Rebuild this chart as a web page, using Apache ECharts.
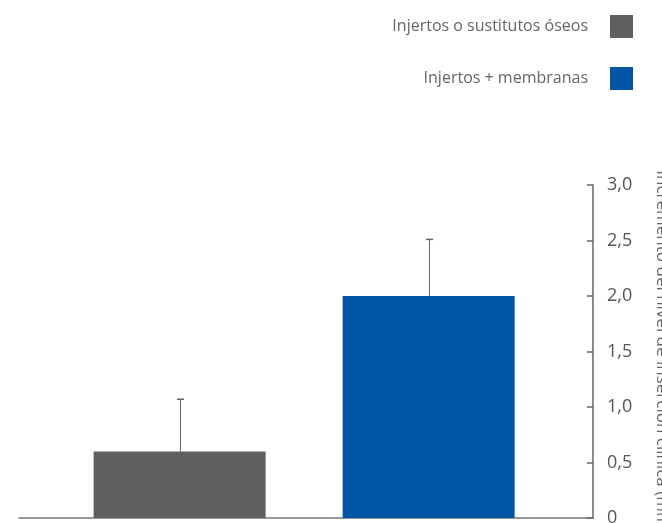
<!DOCTYPE html>
<html>
<head>
<meta charset="utf-8">
<title>Incremento del nivel de inserción clínica</title>
<style>
html, body { margin: 0; width: 100%; height: 100%; background: #fff; }
#box { width: 662px; height: 523px; }
</style>
</head>
<body>
<div id="box"></div>
<script src="https://cdn.jsdelivr.net/npm/echarts@6/dist/echarts.min.js"></script>
<script>
// datos
var categories = ['Injertos o sustitutos óseos', 'Injertos + membranas'];
var values = [0.6, 2.0];
var errorTops = [1.07, 2.51];
var colors = ['#5f5f5e', '#0055a4'];
var yTicks = [0, 0.5, 1, 1.5, 2, 2.5, 3];

var chart = echarts.init(document.getElementById('box'));

var series = categories.map(function (name, i) {
	return {
		name: name,
		type: 'bar',
		data: [[i, values[i]]],
		barWidth: 172,
		barGap: '-100%',
		itemStyle: { color: colors[i] },
		z: 2
	};
});

// barras de error
series.push({
	type: 'custom',
	z: 3,
	data: categories.map(function (c, i) { return [i, values[i], errorTops[i]]; }),
	renderItem: function (params, api) {
		var base = api.coord([api.value(0), api.value(1)]);
		var top = api.coord([api.value(0), api.value(2)]);
		var x = Math.round(base[0]) + 0.5;
		return {
			type: 'group',
			children: [
				{ type: 'line', shape: { x1: x, y1: base[1], x2: x, y2: top[1] }, style: { stroke: '#666', lineWidth: 1 } },
				{ type: 'line', shape: { x1: x - 3.5, y1: top[1], x2: x + 3.5, y2: top[1] }, style: { stroke: '#666', lineWidth: 1.5 } }
			]
		};
	}
});

var option = {
	backgroundColor: '#fff',
	animation: false,
	textStyle: { fontFamily: 'Open Sans' },
	legend: {
		orient: 'vertical',
		right: 29,
		top: 15,
		padding: 0,
		align: 'right',
		itemWidth: 23,
		itemHeight: 23,
		itemGap: 29,
		icon: 'rect',
		selectedMode: false,
		data: categories,
		textStyle: { color: '#666', fontSize: 16, fontFamily: 'Open Sans', padding: [0, 17, 0, 0] }
	},
	grid: { left: 19, right: 69, top: 185, bottom: 5, containLabel: false, outerBoundsMode: 'none' },
	xAxis: {
		type: 'value',
		min: -0.645,
		max: 1.66,
		axisLine: { show: true, onZero: false, lineStyle: { color: '#777', width: 1.5 } },
		axisTick: { show: false },
		axisLabel: { show: false },
		splitLine: { show: false }
	},
	yAxis: {
		type: 'value',
		position: 'right',
		min: 0,
		max: 3,
		interval: 0.5,
		name: 'Incremento del nivel de inserción clínica (mm)',
		nameLocation: 'middle',
		nameRotate: -90,
		nameGap: 60,
		nameTextStyle: { color: '#666', fontSize: 17, fontFamily: 'Open Sans' },
		axisLine: { show: true, onZero: false, lineStyle: { color: '#666', width: 1.5 } },
		axisTick: { show: true, inside: true, length: 6, lineStyle: { color: '#666', width: 1.5 } },
		axisLabel: {
			color: '#555',
			fontSize: 18,
			margin: 14,
			formatter: function (v) {
				return yTicks.indexOf(v) >= 0 && v !== 0 ? v.toFixed(1).replace('.', ',') : String(v);
			}
		},
		splitLine: { show: false }
	},
	series: series
};

chart.setOption(option);
window.addEventListener('resize', function () { chart.resize(); });
</script>
</body>
</html>
